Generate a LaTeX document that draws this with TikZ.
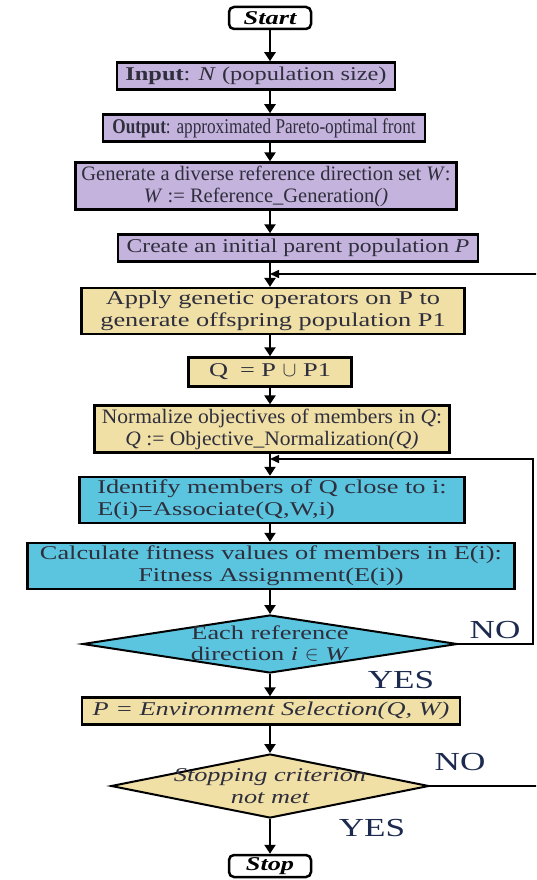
\documentclass[tikz,border=0pt]{standalone}
\usepackage{fontspec}
\setmainfont{Liberation Serif}[FakeStretch=1.35]
\newfontfamily\inputfont{Liberation Serif}[FakeStretch=1.25]
\newfontfamily\outputfont{Liberation Serif}[FakeStretch=0.82]
\newfontfamily\genfont{Liberation Serif}[FakeStretch=1.0]
\newfontfamily\createfont{Liberation Serif}[FakeStretch=1.21]
\newfontfamily\normfont{Liberation Serif}[FakeStretch=1.05]
\usetikzlibrary{shapes.geometric,arrows.meta}
\definecolor{lilac}{HTML}{C4B3DC}
\definecolor{sand}{HTML}{F0E0A6}
\definecolor{sky}{HTML}{5BC5DF}
\definecolor{ink}{HTML}{2E2E3C}
\definecolor{navy}{HTML}{1B2A4E}
\tikzset{
  box/.style={draw=black, line width=2.5pt, rectangle, inner xsep=6pt, inner ysep=3pt,
    minimum height=27pt, text=ink, font=\fontsize{19.5}{22}\selectfont, align=center},
  face/.style={font=\fontsize{#1}{22}\selectfont},
  terminal/.style={draw=black, line width=2.5pt, rounded corners=5pt, fill=white,
    minimum width=82pt, minimum height=22pt, inner ysep=1pt, font=\fontsize{19.5}{22}\selectfont\bfseries\itshape},
  decision/.style={diamond, draw=black, line width=2pt, inner sep=0pt},
  dtext/.style={text=ink, font=\fontsize{19.5}{22}\selectfont, align=center},
  answer/.style={text=navy, font=\fontsize{26}{28}\selectfont},
  arr/.style={line width=2.5pt, -{Triangle[width=11pt,length=9pt]}},
  back/.style={line width=1.5pt, -{Triangle[width=8pt,length=9pt]}}
}
\begin{document}
\begin{tikzpicture}[x=1pt,y=-1pt]
  \clip (0,0) rectangle (536,880);
  % main column
  \node[terminal] (start) at (270,18) {Start};
  \node[box, fill=lilac, minimum width=278pt] (input) at (256,76) {\inputfont\textbf{Input}: \textit{N} (population size)};
  \node[box, fill=lilac, face=21, minimum width=322pt] (output) at (264,128) {\outputfont\textbf{Output}: approximated Pareto-optimal front};
  \node[box, fill=lilac, face=20.5, minimum width=342pt] (gen) at (266,186) {\genfont Generate a diverse reference direction set \textit{W}:\\
    \genfont\textit{W} := Reference\_Generation\textit{()}};
  \node[box, fill=lilac, minimum width=360pt] (create) at (298,248) {\createfont Create an initial parent population \textit{P}};
  \node[box, fill=sand, minimum width=383pt] (apply) at (273,311) {Apply genetic operators on P to\\generate offspring population P1};
  \node[box, fill=sand, minimum width=163pt, minimum height=29pt] (union) at (270,372) {Q \;= P $\cup$ P1};
  \node[box, fill=sand, face=20.5, minimum width=355pt] (norm) at (272,429) {\normfont Normalize objectives of members in \textit{Q}:\\
    \normfont\textit{Q} := Objective\_Normalization\textit{(Q)}};
  \node[box, fill=sky, align=left, minimum width=385pt] (assoc) at (272,500) {Identify members of Q close to i:\\E(i)=Associate(Q,W,i)};
  \node[box, fill=sky, minimum width=487pt] (fit) at (271,566) {Calculate fitness values of members in E(i):\\Fitness Assignment(E(i))};
  \node[decision, fill=sky, minimum width=375pt, minimum height=58pt] (dir) at (270,644) {};
  \node[dtext] (dirtext) at (dir.center) {Each reference\\[-1pt]direction \textit{i} $\in$ \textit{W}};
  \node[box, fill=sand, minimum width=378pt] (envsel) at (271,711) {\itshape P = Environment Selection(Q, W)};
  \node[decision, fill=sand, minimum width=318pt, minimum height=64pt] (stopc) at (270,786) {};
  \node[dtext, font=\fontsize{19.5}{22}\selectfont\itshape] (stopctext) at (stopc.center) {Stopping criterion\\not met};
  \node[terminal] (stop) at (270,866) {Stop};
  % labels
  \node[answer] (no1) at (495,630) {NO};
  \node[answer] (yes1) at (401,680) {YES};
  \node[answer] (no2) at (460,762) {NO};
  \node[answer] (yes2) at (372,828) {YES};
  % flow
  \draw[arr] (start) -- (start |- input.north);
  \draw[arr] (start |- input.south) -- (start |- output.north);
  \draw[arr] (start |- output.south) -- (start |- gen.north);
  \draw[arr] (start |- gen.south) -- (start |- create.north);
  \draw[arr] (start |- create.south) -- (start |- apply.north);
  \draw[arr] (start |- apply.south) -- (start |- union.north);
  \draw[arr] (start |- union.south) -- (start |- norm.north);
  \draw[arr] (start |- norm.south) -- (start |- assoc.north);
  \draw[arr] (start |- assoc.south) -- (start |- fit.north);
  \draw[arr] (start |- fit.south) -- (dir.north);
  \draw[arr] (dir.south) -- (dir.south |- envsel.north);
  \draw[arr] (dir.south |- envsel.south) -- (stopc.north);
  \draw[arr] (stopc.south) -- (stop);
  % loops
  \coordinate (innerloop) at (533,459);
  \coordinate (outerloop) at (548,274);
  \draw[back] (dir.east) -| (innerloop) -- (innerloop -| start);
  \draw[back] (stopc.east) -| (outerloop) -- (outerloop -| start);
\end{tikzpicture}
\end{document}
